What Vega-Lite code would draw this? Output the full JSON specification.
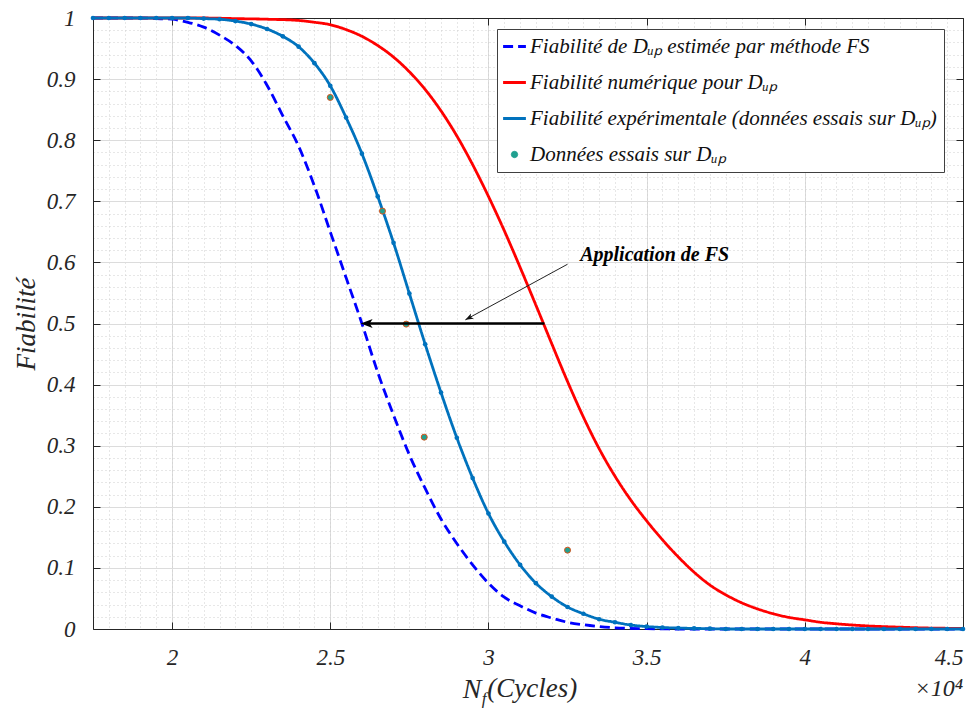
{
  "$schema": "https://vega.github.io/schema/vega-lite/v6.json",
  "width": 870,
  "height": 611,
  "autosize": {"type": "none"},
  "padding": {"left": 93, "top": 18, "right": 16, "bottom": 80},
  "background": "white",
  "config": {
    "view": {"stroke": null},
    "font": "Liberation Serif",
    "axis": {"labelFont": "Liberation Serif", "labelFontStyle": "italic", "labelColor": "#262626", "titleFont": "Liberation Serif", "titleFontStyle": "italic", "titleFontWeight": "normal", "titleColor": "#262626", "domainColor": "#262626", "tickColor": "#262626"}
  },
  "datasets": {
    "curves": [
      {"s": "FS", "x": 17500, "y": 1}, {"s": "FS", "x": 18000, "y": 1}, {"s": "FS", "x": 18500, "y": 1}, {"s": "FS", "x": 19000, "y": 1}, {"s": "FS", "x": 19500, "y": 0.999}, {"s": "FS", "x": 20000, "y": 0.998}, {"s": "FS", "x": 20500, "y": 0.993}, {"s": "FS", "x": 21000, "y": 0.985}, {"s": "FS", "x": 21500, "y": 0.972}, {"s": "FS", "x": 22000, "y": 0.955}, {"s": "FS", "x": 22500, "y": 0.93}, {"s": "FS", "x": 23000, "y": 0.89}, {"s": "FS", "x": 23500, "y": 0.84}, {"s": "FS", "x": 24000, "y": 0.79}, {"s": "FS", "x": 24500, "y": 0.725}, {"s": "FS", "x": 25000, "y": 0.65}, {"s": "FS", "x": 25500, "y": 0.575}, {"s": "FS", "x": 26000, "y": 0.5}, {"s": "FS", "x": 26500, "y": 0.42}, {"s": "FS", "x": 27000, "y": 0.35}, {"s": "FS", "x": 27500, "y": 0.285}, {"s": "FS", "x": 28000, "y": 0.23}, {"s": "FS", "x": 28500, "y": 0.18}, {"s": "FS", "x": 29000, "y": 0.14}, {"s": "FS", "x": 29500, "y": 0.105}, {"s": "FS", "x": 30000, "y": 0.075}, {"s": "FS", "x": 30500, "y": 0.052}, {"s": "FS", "x": 31000, "y": 0.038}, {"s": "FS", "x": 31500, "y": 0.026}, {"s": "FS", "x": 32000, "y": 0.018}, {"s": "FS", "x": 32500, "y": 0.011}, {"s": "FS", "x": 33000, "y": 0.007}, {"s": "FS", "x": 33500, "y": 0.004}, {"s": "FS", "x": 34000, "y": 0.002}, {"s": "FS", "x": 35000, "y": 0.0005}, {"s": "FS", "x": 36000, "y": 0}, {"s": "FS", "x": 45000, "y": 0},
      {"s": "Num", "x": 17500, "y": 1}, {"s": "Num", "x": 20000, "y": 1}, {"s": "Num", "x": 21000, "y": 1}, {"s": "Num", "x": 22000, "y": 0.999}, {"s": "Num", "x": 23000, "y": 0.998}, {"s": "Num", "x": 24000, "y": 0.996}, {"s": "Num", "x": 24500, "y": 0.993}, {"s": "Num", "x": 25000, "y": 0.989}, {"s": "Num", "x": 25500, "y": 0.981}, {"s": "Num", "x": 26000, "y": 0.97}, {"s": "Num", "x": 26500, "y": 0.955}, {"s": "Num", "x": 27000, "y": 0.936}, {"s": "Num", "x": 27500, "y": 0.912}, {"s": "Num", "x": 28000, "y": 0.883}, {"s": "Num", "x": 28500, "y": 0.848}, {"s": "Num", "x": 29000, "y": 0.807}, {"s": "Num", "x": 29500, "y": 0.76}, {"s": "Num", "x": 30000, "y": 0.708}, {"s": "Num", "x": 30500, "y": 0.652}, {"s": "Num", "x": 31000, "y": 0.592}, {"s": "Num", "x": 31500, "y": 0.53}, {"s": "Num", "x": 32000, "y": 0.467}, {"s": "Num", "x": 32500, "y": 0.405}, {"s": "Num", "x": 33000, "y": 0.347}, {"s": "Num", "x": 33500, "y": 0.295}, {"s": "Num", "x": 34000, "y": 0.25}, {"s": "Num", "x": 34500, "y": 0.211}, {"s": "Num", "x": 35000, "y": 0.177}, {"s": "Num", "x": 35500, "y": 0.146}, {"s": "Num", "x": 36000, "y": 0.118}, {"s": "Num", "x": 36500, "y": 0.093}, {"s": "Num", "x": 37000, "y": 0.072}, {"s": "Num", "x": 37500, "y": 0.056}, {"s": "Num", "x": 38000, "y": 0.043}, {"s": "Num", "x": 38500, "y": 0.033}, {"s": "Num", "x": 39000, "y": 0.025}, {"s": "Num", "x": 39500, "y": 0.019}, {"s": "Num", "x": 40000, "y": 0.015}, {"s": "Num", "x": 40500, "y": 0.011}, {"s": "Num", "x": 41000, "y": 0.0085}, {"s": "Num", "x": 42000, "y": 0.005}, {"s": "Num", "x": 43000, "y": 0.003}, {"s": "Num", "x": 44000, "y": 0.0015}, {"s": "Num", "x": 45000, "y": 0.001},
      {"s": "Exp", "x": 17500, "y": 1}, {"s": "Exp", "x": 18000, "y": 1}, {"s": "Exp", "x": 18500, "y": 1}, {"s": "Exp", "x": 19000, "y": 1}, {"s": "Exp", "x": 19500, "y": 1}, {"s": "Exp", "x": 20000, "y": 1}, {"s": "Exp", "x": 20500, "y": 1}, {"s": "Exp", "x": 21000, "y": 0.999}, {"s": "Exp", "x": 21500, "y": 0.998}, {"s": "Exp", "x": 22000, "y": 0.995}, {"s": "Exp", "x": 22500, "y": 0.99}, {"s": "Exp", "x": 23000, "y": 0.982}, {"s": "Exp", "x": 23500, "y": 0.97}, {"s": "Exp", "x": 24000, "y": 0.953}, {"s": "Exp", "x": 24500, "y": 0.926}, {"s": "Exp", "x": 25000, "y": 0.889}, {"s": "Exp", "x": 25500, "y": 0.837}, {"s": "Exp", "x": 26000, "y": 0.778}, {"s": "Exp", "x": 26500, "y": 0.708}, {"s": "Exp", "x": 27000, "y": 0.632}, {"s": "Exp", "x": 27500, "y": 0.549}, {"s": "Exp", "x": 28000, "y": 0.466}, {"s": "Exp", "x": 28500, "y": 0.387}, {"s": "Exp", "x": 29000, "y": 0.313}, {"s": "Exp", "x": 29500, "y": 0.247}, {"s": "Exp", "x": 30000, "y": 0.189}, {"s": "Exp", "x": 30500, "y": 0.143}, {"s": "Exp", "x": 31000, "y": 0.105}, {"s": "Exp", "x": 31500, "y": 0.075}, {"s": "Exp", "x": 32000, "y": 0.053}, {"s": "Exp", "x": 32500, "y": 0.036}, {"s": "Exp", "x": 33000, "y": 0.025}, {"s": "Exp", "x": 33500, "y": 0.016}, {"s": "Exp", "x": 34000, "y": 0.011}, {"s": "Exp", "x": 34500, "y": 0.0065}, {"s": "Exp", "x": 35000, "y": 0.004}, {"s": "Exp", "x": 35500, "y": 0.0025}, {"s": "Exp", "x": 36000, "y": 0.0015}, {"s": "Exp", "x": 36500, "y": 0.001}, {"s": "Exp", "x": 37000, "y": 0.0005}, {"s": "Exp", "x": 37500, "y": 0}, {"s": "Exp", "x": 38000, "y": 0}, {"s": "Exp", "x": 38500, "y": 0}, {"s": "Exp", "x": 39000, "y": 0}, {"s": "Exp", "x": 39500, "y": 0}, {"s": "Exp", "x": 40000, "y": 0}, {"s": "Exp", "x": 40500, "y": 0}, {"s": "Exp", "x": 41000, "y": 0}, {"s": "Exp", "x": 41500, "y": 0}, {"s": "Exp", "x": 42000, "y": 0}, {"s": "Exp", "x": 42500, "y": 0}, {"s": "Exp", "x": 43000, "y": 0}, {"s": "Exp", "x": 43500, "y": 0}, {"s": "Exp", "x": 44000, "y": 0}, {"s": "Exp", "x": 44500, "y": 0}, {"s": "Exp", "x": 45000, "y": 0}
    ],
    "essais": [
      {"s": "Data", "x": 25000, "y": 0.87},
      {"s": "Data", "x": 26650, "y": 0.684},
      {"s": "Data", "x": 27400, "y": 0.499},
      {"s": "Data", "x": 27970, "y": 0.314},
      {"s": "Data", "x": 32500, "y": 0.129}
    ],
    "fleche": [{"x": 31770, "x2": 26200, "y": 0.5, "tip": 25960}],
    "renvoi": [{"x": 32500, "y": 0.597, "x2": 29270, "y2": 0.506}],
    "note": [{"t": "Application de FS", "x": 32900, "y": 0.612}],
    "titreN": [{"t": "N", "x": 29780, "y": -0.113}],
    "titreF": [{"t": "f", "x": 29790, "y": -0.122}],
    "titreC": [{"t": "(Cycles)", "x": 29960, "y": -0.111}],
    "echelle": [{"t": "×10⁴", "x": 45000, "y": -0.109}]
  },
  "resolve": {"axis": {"x": "independent", "y": "independent"}},
  "layer": [
    {
      "data": {"name": "curves"},
      "mark": {"type": "line", "strokeWidth": 2.8, "interpolate": "monotone"},
      "encoding": {
        "x": {"field": "x", "type": "quantitative", "scale": {"domain": [17500, 45000], "nice": false, "zero": false},
          "axis": {"orient": "bottom", "values": [20000, 25000, 30000, 35000, 40000, 45000], "labelExpr": "format(datum.value / 10000, '')", "labelFontSize": 23, "labelPadding": 24, "tickSize": -7, "grid": true, "gridColor": "#dcdcdc", "gridWidth": 1, "domain": true, "title": null}},
        "y": {"field": "y", "type": "quantitative", "scale": {"domain": [0, 1], "nice": false, "zero": false},
          "axis": {"orient": "left", "values": [0, 0.1, 0.2, 0.3, 0.4, 0.5, 0.6, 0.7, 0.8, 0.9, 1], "labelExpr": "format(datum.value, '')", "labelFontSize": 23, "labelPadding": 25, "tickSize": -7, "grid": true, "gridColor": "#dcdcdc", "gridWidth": 1, "domain": true, "title": "Fiabilité", "titleFontSize": 27, "titlePadding": 6}},
        "color": {"field": "s", "type": "nominal",
          "scale": {"domain": ["FS", "Num", "Exp", "Data"], "range": ["#0000ff", "#ff0000", "#0072bd", "#20a090"]},
          "legend": {
            "title": null, "orient": "none", "legendX": 404, "legendY": 11,
            "fillColor": "white", "strokeColor": "#404040", "padding": 7,
            "labelFont": "Liberation Serif", "labelFontStyle": "italic", "labelFontSize": 21, "labelColor": "#111111", "labelLimit": 0, "labelOffset": 5,
            "rowPadding": 14, "symbolSize": 520, "symbolStrokeWidth": 3,
            "labelExpr": "{'FS': 'Fiabilité  de Dᵤₚ estimée par méthode FS', 'Num': 'Fiabilité numérique pour Dᵤₚ', 'Exp': 'Fiabilité expérimentale (données essais sur Dᵤₚ)', 'Data': 'Données essais sur Dᵤₚ'}[datum.label]",
            "encode": {"symbols": {"update": {
              "shape": {"signal": "datum.value === 'Data' ? 'circle' : 'stroke'"},
              "size": {"signal": "datum.value === 'Data' ? 40 : 520"},
              "fill": {"signal": "datum.value === 'Data' ? '#20a090' : 'transparent'"},
              "stroke": {"signal": "datum.value === 'Data' ? '#d95319' : scale('color', datum.value)"},
              "strokeWidth": {"signal": "datum.value === 'Data' ? 1 : 3"},
              "strokeDash": {"signal": "datum.value === 'FS' ? [8, 4] : [1, 0]"}
            }}}
          }},
        "strokeDash": {"field": "s", "type": "nominal", "scale": {"domain": ["FS", "Num", "Exp", "Data"], "range": [[10, 5], [1, 0], [1, 0], [1, 0]]}, "legend": null}
      }
    },
    {
      "data": {"name": "curves"},
      "transform": [{"filter": "datum.s === 'Exp'"}],
      "mark": {"type": "point", "filled": true, "size": 22, "opacity": 1, "color": "#0072bd"},
      "encoding": {
        "x": {"field": "x", "type": "quantitative", "axis": {"orient": "bottom", "values": [17500, 18000, 18500, 19000, 19500, 20000, 20500, 21000, 21500, 22000, 22500, 23000, 23500, 24000, 24500, 25000, 25500, 26000, 26500, 27000, 27500, 28000, 28500, 29000, 29500, 30000, 30500, 31000, 31500, 32000, 32500, 33000, 33500, 34000, 34500, 35000, 35500, 36000, 36500, 37000, 37500, 38000, 38500, 39000, 39500, 40000, 40500, 41000, 41500, 42000, 42500, 43000, 43500, 44000, 44500, 45000], "grid": true, "gridDash": [1, 3], "gridColor": "#cfcfcf", "labels": false, "ticks": false, "domain": false, "title": null}},
        "y": {"field": "y", "type": "quantitative", "axis": {"orient": "left", "values": [0.02, 0.04, 0.06, 0.08, 0.12, 0.14, 0.16, 0.18, 0.22, 0.24, 0.26, 0.28, 0.32, 0.34, 0.36, 0.38, 0.42, 0.44, 0.46, 0.48, 0.52, 0.54, 0.56, 0.58, 0.62, 0.64, 0.66, 0.68, 0.72, 0.74, 0.76, 0.78, 0.82, 0.84, 0.86, 0.88, 0.92, 0.94, 0.96, 0.98], "grid": true, "gridDash": [1, 3], "gridColor": "#cfcfcf", "labels": false, "ticks": false, "domain": false, "title": null}}
      }
    },
    {
      "data": {"name": "essais"},
      "mark": {"type": "point", "filled": true, "size": 36, "opacity": 1, "strokeWidth": 1},
      "encoding": {
        "x": {"field": "x", "type": "quantitative", "axis": {"orient": "top", "values": [20000, 25000, 30000, 35000, 40000, 45000], "labels": false, "tickSize": -7, "grid": false, "domain": true, "title": null}},
        "y": {"field": "y", "type": "quantitative", "axis": {"orient": "right", "values": [0, 0.1, 0.2, 0.3, 0.4, 0.5, 0.6, 0.7, 0.8, 0.9, 1], "labels": false, "tickSize": -7, "grid": false, "domain": true, "title": null}},
        "color": {"field": "s", "type": "nominal", "scale": {"domain": ["FS", "Num", "Exp", "Data"], "range": ["#0000ff", "#ff0000", "#0072bd", "#20a090"]}},
        "stroke": {"value": "#d95319"}
      }
    },
    {
      "data": {"name": "fleche"},
      "mark": {"type": "rule", "color": "black", "strokeWidth": 2.5},
      "encoding": {
        "x": {"field": "x", "type": "quantitative", "axis": null},
        "x2": {"field": "x2"},
        "y": {"field": "y", "type": "quantitative", "axis": null}
      }
    },
    {
      "data": {"name": "fleche"},
      "mark": {"type": "point", "shape": "M0,0 L2,-0.75 L1.5,0 L2,0.75 Z", "filled": true, "color": "black", "opacity": 1, "size": 144},
      "encoding": {
        "x": {"field": "tip", "type": "quantitative", "axis": null},
        "y": {"field": "y", "type": "quantitative", "axis": null}
      }
    },
    {
      "data": {"name": "renvoi"},
      "mark": {"type": "rule", "color": "#222222", "strokeWidth": 1},
      "encoding": {
        "x": {"field": "x", "type": "quantitative", "axis": null},
        "x2": {"field": "x2"},
        "y": {"field": "y", "type": "quantitative", "axis": null},
        "y2": {"field": "y2"}
      }
    },
    {
      "data": {"name": "renvoi"},
      "mark": {"type": "point", "shape": "M0,0 L2,-0.75 L1.5,0 L2,0.75 Z", "filled": true, "color": "#111111", "opacity": 1, "size": 64, "angle": 332},
      "encoding": {
        "x": {"field": "x2", "type": "quantitative", "axis": null},
        "y": {"field": "y2", "type": "quantitative", "axis": null}
      }
    },
    {
      "data": {"name": "note"},
      "mark": {"type": "text", "font": "Liberation Serif", "fontStyle": "italic", "fontWeight": "bold", "fontSize": 20, "align": "left", "baseline": "middle", "color": "black"},
      "encoding": {
        "x": {"field": "x", "type": "quantitative", "axis": null},
        "y": {"field": "y", "type": "quantitative", "axis": null},
        "text": {"field": "t"}
      }
    },
    {
      "data": {"name": "titreN"},
      "mark": {"type": "text", "font": "Liberation Serif", "fontStyle": "italic", "fontSize": 28, "align": "right", "baseline": "alphabetic", "color": "#262626"},
      "encoding": {
        "x": {"field": "x", "type": "quantitative", "axis": null},
        "y": {"field": "y", "type": "quantitative", "axis": null},
        "text": {"field": "t"}
      }
    },
    {
      "data": {"name": "titreF"},
      "mark": {"type": "text", "font": "Liberation Serif", "fontStyle": "italic", "fontSize": 17, "align": "left", "baseline": "alphabetic", "color": "#262626"},
      "encoding": {
        "x": {"field": "x", "type": "quantitative", "axis": null},
        "y": {"field": "y", "type": "quantitative", "axis": null},
        "text": {"field": "t"}
      }
    },
    {
      "data": {"name": "titreC"},
      "mark": {"type": "text", "font": "Liberation Serif", "fontStyle": "italic", "fontSize": 27, "align": "left", "baseline": "alphabetic", "color": "#262626"},
      "encoding": {
        "x": {"field": "x", "type": "quantitative", "axis": null},
        "y": {"field": "y", "type": "quantitative", "axis": null},
        "text": {"field": "t"}
      }
    },
    {
      "data": {"name": "echelle"},
      "mark": {"type": "text", "font": "Liberation Serif", "fontStyle": "italic", "fontSize": 24, "align": "right", "baseline": "alphabetic", "color": "#262626"},
      "encoding": {
        "x": {"field": "x", "type": "quantitative", "axis": null},
        "y": {"field": "y", "type": "quantitative", "axis": null},
        "text": {"field": "t"}
      }
    }
  ]
}
